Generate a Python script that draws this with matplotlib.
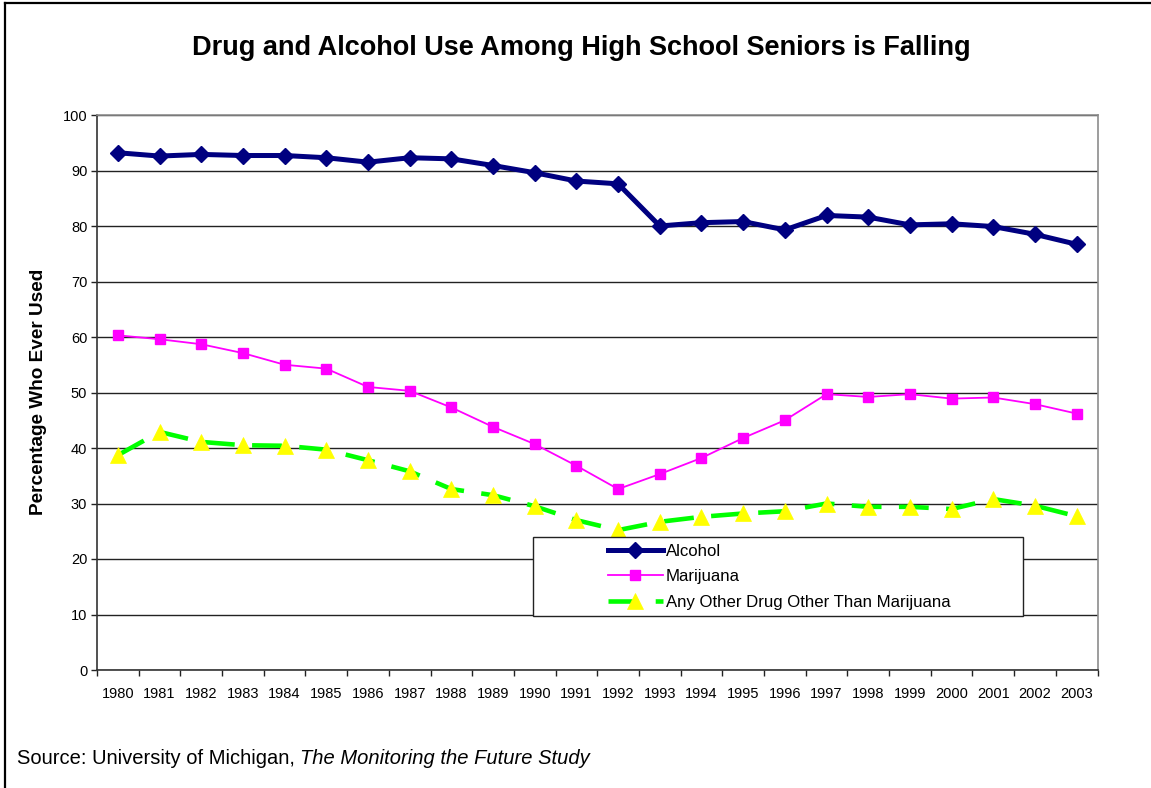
import numpy as np
import matplotlib
matplotlib.use("Agg")
import matplotlib.pyplot as plt
from matplotlib.lines import Line2D
from matplotlib.patches import Rectangle

plt.rcParams['font.family'] = ['Liberation Sans', 'DejaVu Sans']

# Monitoring the Future: percentage of seniors who ever used
years = ['1980', '1981', '1982', '1983', '1984', '1985', '1986', '1987',
         '1988', '1989', '1990', '1991', '1992', '1993', '1994', '1995',
         '1996', '1997', '1998', '1999', '2000', '2001', '2002', '2003']
alcohol = [93.2, 92.6, 92.9, 92.7, 92.7, 92.3, 91.5, 92.3, 92.1, 90.9, 89.6, 88.1,
           87.6, 80.0, 80.6, 80.8, 79.3, 81.9, 81.6, 80.2, 80.4, 79.9, 78.5, 76.7]
marijuana = [60.3, 59.6, 58.7, 57.1, 55.0, 54.3, 51.0, 50.3, 47.3, 43.8, 40.7, 36.8,
             32.6, 35.3, 38.2, 41.8, 45.0, 49.7, 49.2, 49.7, 48.9, 49.1, 47.9, 46.2]
other_drug = [38.7, 42.9, 41.1, 40.5, 40.4, 39.7, 37.8, 35.8, 32.6, 31.5, 29.5, 27.0,
              25.2, 26.7, 27.6, 28.2, 28.6, 30.0, 29.4, 29.4, 29.0, 30.8, 29.6, 27.7]

W, H = 1151, 788
fig = plt.figure(figsize=(W / 100, H / 100), dpi=100)
ax = fig.add_axes([97 / W, 1 - 670 / H, 1000.5 / W, 555 / H])

x = np.arange(len(years))

ax.plot(x, alcohol, color='#000080', lw=3.6, marker='D', ms=8.4,
        mfc='#000080', mec='#000080', label='Alcohol', zorder=5)
ax.plot(x, marijuana, color='#FF00FF', lw=1.3, marker='s', ms=7.2,
        mfc='#FF00FF', mec='#FF00FF', label='Marijuana', zorder=4)
ax.plot(x, other_drug, color='#00FF00', lw=3.3, dashes=(6.5, 3.8),
        marker='^', ms=11, mfc='#FFFF00', mec='#FFFF00', mew=0.5,
        label='Any Other Drug Other Than Marijuana', zorder=3)

ax.set_xlim(-0.5, len(years) - 0.5)
ax.set_ylim(0, 100)
ax.set_yticks(np.arange(0, 101, 10))
ax.yaxis.grid(True, color='#222222', lw=1)
ax.set_axisbelow(True)

# year labels centred on categories, ticks on the category boundaries
ax.set_xticks(x)
ax.set_xticklabels(years, fontsize=10.5)
ax.set_xticks(np.arange(-0.5, len(years), 1), minor=True)
ax.tick_params(axis='x', which='major', length=0, pad=12)
ax.tick_params(axis='x', which='minor', length=4, width=1, color='#222222', direction='out')
ax.tick_params(axis='y', length=4, width=1, color='#222222', labelsize=10.5, pad=3)

for side in ['left', 'bottom']:
    ax.spines[side].set_color('#333333')
    ax.spines[side].set_linewidth(1.2)
for side in ['top', 'right']:
    ax.spines[side].set_color('#8c8c8c')
    ax.spines[side].set_linewidth(1.2)

# legend box with the entries placed inside it
fig.patches.append(Rectangle((533 / W, 1 - 616 / H), 490 / W, 79 / H,
                             transform=fig.transFigure, fc='white', ec='#222222',
                             lw=1, zorder=10))
leg = fig.legend(loc='upper left', bbox_to_anchor=(601 / W, 1 - 537 / H),
                 frameon=False, fontsize=12.1, handlelength=3.3, handletextpad=0.15,
                 labelspacing=0.62, borderaxespad=0)
leg.set_zorder(11)

fig.text(581 / W, 1 - 48 / H,
         'Drug and Alcohol Use Among High School Seniors is Falling',
         ha='center', va='center', fontsize=19.5, fontweight='bold')
fig.text(39 / W, 1 - 392 / H, 'Percentage Who Ever Used', rotation=90,
         ha='center', va='center', fontsize=13.7, fontweight='bold')

# source line: plain part followed by the italic study title
src = fig.text(17 / W, 1 - 764 / H, 'Source: University of Michigan, ',
               ha='left', va='baseline', fontsize=14.5)
study = fig.text(0, 1 - 764 / H, 'The Monitoring the Future Study', fontsize=14.5,
                 style='italic', ha='left', va='baseline')
fig.canvas.draw()
study.set_x(src.get_window_extent().x1 / W)

# page frame
fig.add_artist(Line2D([5 / W, 5 / W], [0, 1 - 3 / H], transform=fig.transFigure,
                      color='black', lw=1.6))
fig.add_artist(Line2D([5 / W, 1], [1 - 3 / H, 1 - 3 / H], transform=fig.transFigure,
                      color='black', lw=1.6))

fig.savefig('out.png', dpi=100)
